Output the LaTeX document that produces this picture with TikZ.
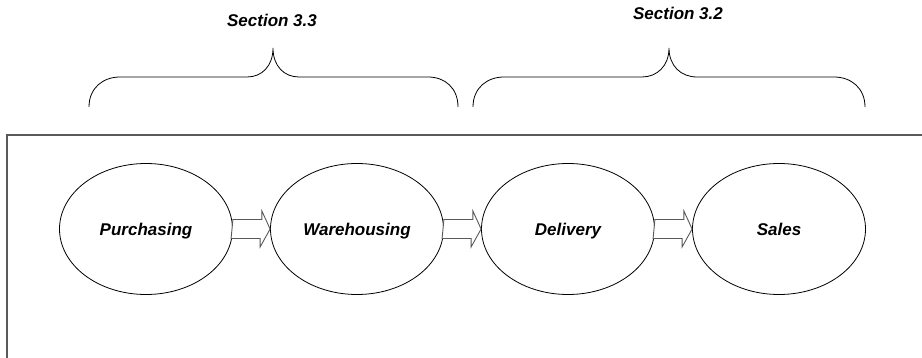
\documentclass[tikz,border=0pt]{standalone}
\usepackage{fontspec}
\setmainfont{Liberation Sans}
\usetikzlibrary{shapes.geometric}
\tikzset{
  stage/.style={ellipse, draw=black, line width=0.8pt, minimum width=173pt, minimum height=131pt, inner sep=0pt,
    text height=14pt, text depth=0pt,
    font=\fontsize{17}{20}\selectfont\bfseries\itshape},
  flowarrow/.style={draw=black!65, line width=0.9pt, fill=white, line join=miter},
  bracket/.style={draw=black, line width=0.8pt},
  frameline/.style={draw=black!65, line width=1.6pt},
  seclabel/.style={font=\fontsize{17}{20}\selectfont\bfseries\itshape}
}
\begin{document}
\begin{tikzpicture}[x=1pt, y=-1pt]
\useasboundingbox (0,0) rectangle (922,358);
% outer frame (left and top edges)
\draw[frameline] (7,358) -- (7,135) -- (922,135);
% process stages
\node[stage] (pur) at (146,229) {Purchasing};
\node[stage] (war) at (357,229) {Warehousing};
\node[stage] (del) at (568,229) {Delivery};
\node[stage] (sal) at (779,229) {Sales};
% block arrows between stages
\foreach \a/\b in {pur/war, war/del, del/sal}{
  \draw[flowarrow] (\a.east) ++(0,-9.5) -- ++(29,0) -- ++(0,-8.5) -- (\b.west)
    -- ++(-10,18) -- ++(0,-8.5) -- ++(-29,0) -- cycle;
}
% section brackets
\draw[bracket] (89,107) .. controls (89,88) and (103,77) .. (120,77) -- (247,77)
  .. controls (262,77) and (273,66) .. (273,48)
  .. controls (273,66) and (284,77) .. (299,77) -- (428,77)
  .. controls (445,77) and (458,88) .. (458,107);
\node[seclabel] (s33) at (272,20) {Section 3.3};
\draw[bracket] (473,107) .. controls (473,88) and (487,77) .. (504,77) -- (642,77)
  .. controls (657,77) and (669,66) .. (669,48)
  .. controls (669,66) and (681,77) .. (697,77) -- (834,77)
  .. controls (851,77) and (865,88) .. (865,107);
\node[seclabel] (s32) at (678,13) {Section 3.2};
\end{tikzpicture}
\end{document}
